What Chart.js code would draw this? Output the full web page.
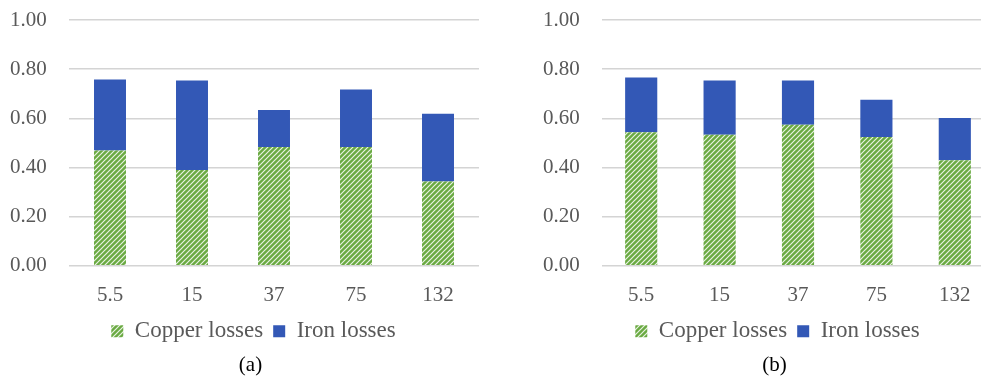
<!DOCTYPE html>
<html>
<head>
<meta charset="utf-8">
<script src="https://cdn.jsdelivr.net/npm/chart.js"></script>
<style>
  html, body { margin: 0; padding: 0; background: #fff; overflow: hidden; }
  body { width: 981px; height: 378px; position: relative; }
  .box { position: absolute; top: 0; height: 378px; }
  #boxA { left: 0; width: 520px; }
  #boxB { left: 490px; width: 588px; }
</style>
</head>
<body>
<div class="box" id="boxA"><canvas id="chartA"></canvas></div>
<div class="box" id="boxB"><canvas id="chartB"></canvas></div>
<script>
"use strict";
// Dados
const categorias = ['5.5', '15', '37', '75', '132'];
const cobreA = [0.469, 0.390, 0.483, 0.483, 0.343];
const ferroA = [0.289, 0.364, 0.151, 0.234, 0.276];
const cobreB = [0.543, 0.533, 0.574, 0.524, 0.429];
const ferroB = [0.223, 0.221, 0.180, 0.152, 0.172];
const ticksY = [0, 0.2, 0.4, 0.6, 0.8, 1.0];

const VERDE = '#6aaa42';
const AZUL = '#3358b6';
const FONTE = "'Liberation Serif', 'Times New Roman', serif";

// Padrão hachurado (listras brancas diagonais)
function hachura() {
  const s = 5;
  const c = document.createElement('canvas');
  c.width = s; c.height = s;
  const g = c.getContext('2d');
  g.fillStyle = VERDE;
  g.fillRect(0, 0, s, s);
  g.strokeStyle = 'rgba(255,255,255,0.85)';
  g.lineWidth = 1.2;
  g.beginPath();
  g.moveTo(-1, s + 1); g.lineTo(s + 1, -1);
  g.moveTo(-1, 1); g.lineTo(1, -1);
  g.moveTo(s - 1, s + 1); g.lineTo(s + 1, s - 1);
  g.stroke();
  return g.createPattern(c, 'repeat');
}

// Desloca legenda e título um pouco (centrados no canvas no original)
const deslocaCaixas = {
  id: 'deslocaCaixas',
  afterLayout(chart) {
    const lg = chart.legend, tt = chart.titleBlock;
    if (lg) { lg.left += 9; lg.right += 9; lg.top += 2; lg.bottom += 2; }
    if (tt) { tt.left += 6; tt.right += 6; }
  }
};

function montarGrafico(canvasId, cobre, ferro, padEsquerda, padDireita, barPct, legenda) {
  const padrao = hachura();
  const ctx = document.getElementById(canvasId).getContext('2d');
  return new Chart(ctx, {
    type: 'bar',
    plugins: [deslocaCaixas],
    data: {
      labels: categorias,
      datasets: [{
        label: 'Copper losses',
        data: cobre,
        backgroundColor: padrao,
        borderWidth: 0,
        barPercentage: barPct,
        categoryPercentage: 1
      }, {
        label: 'Iron losses',
        data: ferro,
        backgroundColor: AZUL,
        borderWidth: 0,
        barPercentage: barPct,
        categoryPercentage: 1
      }]
    },
    options: {
      responsive: true,
      maintainAspectRatio: false,
      animation: false,
      layout: { padding: { top: 20, right: padDireita, bottom: 0, left: padEsquerda } },
      plugins: {
        tooltip: { enabled: false },
        legend: {
          display: true,
          position: 'bottom',
          labels: {
            color: '#595959',
            font: { family: FONTE, size: 23 },
            boxWidth: 12,
            boxHeight: 12,
            padding: 10
          }
        },
        title: {
          display: true,
          position: 'bottom',
          text: legenda,
          color: '#000',
          font: { family: FONTE, size: 21, weight: 'normal' },
          padding: { top: 2, bottom: 0 }
        }
      },
      scales: {
        x: {
          stacked: true,
          grid: { display: false, drawTicks: false },
          border: { display: false },
          ticks: { color: '#595959', font: { family: FONTE, size: 21 }, padding: 17 },
          afterFit: (s) => { s.height = 42; }
        },
        y: {
          stacked: true,
          min: 0,
          max: 1,
          afterBuildTicks: (s) => { s.ticks = ticksY.map(v => ({ value: v })); },
          grid: { color: '#d4d4d4', lineWidth: 1.5, drawTicks: false },
          border: { display: false },
          ticks: {
            color: '#595959',
            font: { family: FONTE, size: 21 },
            padding: 0,
            crossAlign: 'far',
            callback: (v) => Number(v).toFixed(2)
          },
          afterFit: (s) => { s.width = 59; }
        }
      }
    }
  });
}

montarGrafico('chartA', cobreA, ferroA, 10, 41, 0.39, '(a)');
montarGrafico('chartB', cobreB, ferroB, 53, 84, 0.41, '(b)');
</script>
</body>
</html>
